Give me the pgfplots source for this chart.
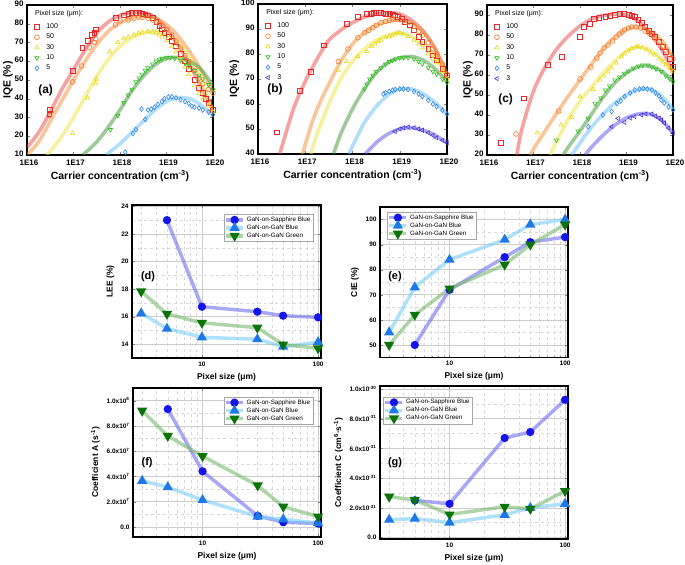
\documentclass[border=0pt]{standalone}
\usepackage{pgfplots}
\pgfplotsset{compat=1.18}
\usepackage{fontspec}
\setmainfont{Liberation Sans}

\definecolor{cR}{RGB}{230,40,40}
\definecolor{cO}{RGB}{245,120,40}
\definecolor{cY}{RGB}{232,215,10}
\definecolor{cG}{RGB}{40,190,20}
\definecolor{cB}{RGB}{40,130,235}
\definecolor{cP}{RGB}{70,50,220}
\definecolor{cRf}{RGB}{240,70,70}
\definecolor{cOf}{RGB}{250,140,50}
\definecolor{cYf}{RGB}{240,225,60}
\definecolor{cGf}{RGB}{60,150,50}
\definecolor{cBf}{RGB}{100,190,245}
\definecolor{cPf}{RGB}{90,80,230}
\definecolor{sapL}{RGB}{110,110,240}
\definecolor{sapM}{RGB}{20,20,235}
\definecolor{gbL}{RGB}{120,205,250}
\definecolor{gbM}{RGB}{30,120,230}
\definecolor{ggL}{RGB}{120,185,110}
\definecolor{ggM}{RGB}{10,115,10}

\begin{document}
\begin{tikzpicture}
\path[use as bounding box] (0,0) rectangle (685bp,565bp);

% ================= (a) =================
\begin{axis}[at={(27bp,410bp)}, anchor=south west, width=186bp, height=150bp,
  scale only axis, xmode=log, xmin=1e16, xmax=1e20,
  xtick={1e16,1e17,1e18,1e19,1e20}, xticklabels={1E16,1E17,1E18,1E19,1E20},
  tick align=inside, major tick length=3pt, minor tick length=1.5pt,
  axis line style={line width=1.1pt},
  tick label style={font=\bfseries\fontsize{8}{9}\selectfont},
  xticklabel style={yshift=-1.5pt, xshift=2pt},
  yticklabel style={yshift=1pt},
  label style={font=\bfseries\fontsize{10.5}{12}\selectfont},
  xlabel={Carrier concentration (cm\textsuperscript{-3})}, ylabel={IQE (\%)},
  xlabel shift=-2pt, ylabel shift=-5pt,
  legend cell align=left,
  legend style={draw=none, fill=none, anchor=north west, at={(0.035,0.895)},
      font=\fontsize{7}{8}\selectfont, row sep=0pt, inner sep=0.8pt,
      /tikz/every odd column/.append style={column sep=5pt}},
  ymin=10, ymax=90, ytick={10,20,30,40,50,60,70,80,90},
  yticklabels={10,20,30,40,50,60,70,80,90}]
\addplot[forget plot, smooth, no marks, line width=3.6pt, opacity=0.5, cRf] coordinates {(1e16,14) (1.778e16,22) (3.162e16,33) (5.623e16,45) (1e17,55.5) (1.778e17,66) (3.162e17,75) (5.623e17,81) (1e18,84.5) (1.778e18,86) (3.162e18,86) (5.623e18,83.5) (1e19,77.5) (1.778e19,69) (3.162e19,58) (5.623e19,46) (1e20,34)};
\addplot[forget plot, smooth, no marks, line width=3.6pt, opacity=0.5, cOf] coordinates {(1e16,10) (1.778e16,17) (3.162e16,28) (5.623e16,39) (1e17,50) (1.778e17,60) (3.162e17,69) (5.623e17,76) (1e18,80.5) (1.778e18,83) (3.162e18,84) (5.623e18,83) (1e19,79.5) (1.778e19,73.5) (3.162e19,65) (5.623e19,55) (1e20,43)};
\addplot[forget plot, smooth, no marks, line width=3.6pt, opacity=0.5, cYf] coordinates {(2.63e16,10) (3.162e16,12) (5.623e16,20) (1e17,30) (1.778e17,41) (3.162e17,52) (5.623e17,61) (1e18,68) (1.778e18,72.5) (3.162e18,75) (5.623e18,76) (1e19,74.5) (1.778e19,70) (3.162e19,62) (5.623e19,50) (1e20,33)};
\addplot[forget plot, smooth, no marks, line width=3.6pt, opacity=0.5, cGf] coordinates {(1.585e17,10) (3.162e17,17) (5.623e17,25) (1e18,34) (1.778e18,44) (3.162e18,52) (5.623e18,58) (1e19,61.5) (1.778e19,62) (3.162e19,60) (5.623e19,55.5) (1e20,47)};
\addplot[forget plot, smooth, no marks, line width=3.6pt, opacity=0.5, cBf] coordinates {(5.01e17,10) (1e18,16) (1.778e18,22) (3.162e18,28) (5.623e18,34) (1e19,38.5) (1.778e19,40.5) (3.162e19,40) (5.623e19,36.5) (1e20,31)};
\addplot[only marks, line width=0.6pt, mark size=2.4pt, cR, mark=square] coordinates {(3.1e16,34) (3e16,32) (9.5e16,55) (1.55e17,67) (2e17,71) (2.5e17,74) (2.8e17,75) (3e17,77) (8e17,83) (1.2e18,84.5) (1.5e18,85.5) (1.8e18,86) (2.2e18,86) (2.6e18,86) (3e18,85.5) (3.5e18,85) (4e18,84.5) (5e18,83) (6e18,81) (7e18,79) (8e18,77) (9e18,75) (1.1e19,73) (1.3e19,71) (1.6e19,68) (2e19,64) (2.5e19,60) (3e19,56) (4e19,50) (5e19,46) (6e19,43) (7e19,40) (8e19,38) (1e20,34)};
\addlegendentry{100}
\addplot[only marks, line width=0.6pt, mark size=2.4pt, cO, mark=o] coordinates {(3e16,31) (9.5e16,49) (1.5e17,57.5) (2.2e17,67.5) (2.8e17,70) (3e17,72) (8e17,79.5) (1e18,81.5) (1.5e18,82) (2e18,83) (2.5e18,83.5) (3e18,83.5) (4e18,83) (5e18,82) (6e18,81) (7e18,80) (8e18,79) (1e19,77) (1.3e19,74) (1.6e19,71) (2e19,67) (2.5e19,63) (3e19,60) (4e19,55) (5e19,51) (6e19,48) (8e19,45) (1e20,43)};
\addlegendentry{50}
\addplot[only marks, line width=0.6pt, mark size=2.4pt, cY, mark=triangle] coordinates {(9.5e16,21.5) (2e17,40.5) (3e17,48) (3.1e17,50.5) (6e17,65) (9e17,70) (1.2e18,72) (1.5e18,73) (2e18,74) (2.5e18,75) (3e18,75.5) (4e18,76) (5e18,75.5) (6e18,75) (7e18,74) (8e18,73) (1e19,71) (1.3e19,68) (1.6e19,65) (2e19,61) (2.5e19,57) (3e19,53) (4e19,47) (5e19,43) (6e19,40) (8e19,36) (1e20,33)};
\addlegendentry{30}
\addplot[only marks, line width=0.6pt, mark size=2.4pt, cG, mark=triangle, mark options={rotate=180}] coordinates {(6.2e17,23.5) (9e17,31) (1.2e18,38) (1.5e18,42) (1.8e18,45) (2.2e18,49) (2.6e18,51) (3e18,53) (3.5e18,55) (4e18,56.5) (5e18,58.5) (6e18,60) (7e18,61) (8e18,61.5) (1e19,62) (1.2e19,62) (1.5e19,61.5) (2e19,60.5) (2.5e19,59) (3e19,57.5) (4e19,55) (5e19,52.5) (6e19,50.5) (8e19,47.5) (1e20,45)};
\addlegendentry{10}
\addplot[only marks, line width=0.6pt, mark size=2.4pt, cB, mark=diamond] coordinates {(1.3e18,11.5) (1.9e18,21.5) (2.2e18,23.5) (2.9e18,34.5) (3.5e18,29) (4e18,34) (4.7e18,34.5) (5.5e18,35.5) (6.5e18,37) (8e18,38.5) (9e18,40) (1.1e19,41) (1.3e19,41) (1.6e19,40.5) (2e19,39.5) (2.5e19,38.5) (3e19,37.5) (3.5e19,36) (4e19,35.5) (5e19,35) (6e19,34) (8e19,33) (1e20,31.5)};
\addlegendentry{5}
\node[anchor=west, font=\fontsize{7}{8}\selectfont] at (rel axis cs:0.025,0.94) {Pixel size (μm):};
\node[font=\bfseries\fontsize{12}{14}\selectfont] at (rel axis cs:0.1,0.43) {(a)};
\end{axis}

% ================= (b) =================
\begin{axis}[at={(258bp,411bp)}, anchor=south west, width=189bp, height=150bp,
  scale only axis, xmode=log, xmin=1e16, xmax=1e20,
  xtick={1e16,1e17,1e18,1e19,1e20}, xticklabels={1E16,1E17,1E18,1E19,1E20},
  tick align=inside, major tick length=3pt, minor tick length=1.5pt,
  axis line style={line width=1.1pt},
  tick label style={font=\bfseries\fontsize{8}{9}\selectfont},
  xticklabel style={yshift=-1.5pt, xshift=2pt},
  yticklabel style={yshift=1pt},
  label style={font=\bfseries\fontsize{10.5}{12}\selectfont},
  xlabel={Carrier concentration (cm\textsuperscript{-3})}, ylabel={IQE (\%)},
  xlabel shift=-2pt, ylabel shift=-5pt,
  legend cell align=left,
  legend style={draw=none, fill=none, anchor=north west, at={(0.035,0.895)},
      font=\fontsize{7}{8}\selectfont, row sep=0pt, inner sep=0.8pt,
      /tikz/every odd column/.append style={column sep=5pt}},
  ymin=40, ymax=100, ytick={40,50,60,70,80,90,100},
  yticklabels={40,50,60,70,80,90,100}]
\addplot[forget plot, smooth, no marks, line width=3.6pt, opacity=0.5, cRf] coordinates {(2.88e16,40) (5.623e16,58) (1e17,69) (1.778e17,78) (3.162e17,85.5) (5.623e17,89.5) (1e18,92.5) (1.778e18,94.8) (3.162e18,96) (5.623e18,96.5) (1e19,96) (1.778e19,93.5) (3.162e19,89) (5.623e19,82) (1e20,72)};
\addplot[forget plot, smooth, no marks, line width=3.6pt, opacity=0.5, cOf] coordinates {(8.71e16,40) (1.259e17,50) (1.778e17,58) (3.162e17,68) (5.623e17,77) (1e18,84) (1.778e18,88.5) (3.162e18,91.5) (5.623e18,93) (1e19,93.5) (1.778e19,92.5) (3.162e19,89) (5.623e19,82) (1e20,71)};
\addplot[forget plot, smooth, no marks, line width=3.6pt, opacity=0.5, cYf] coordinates {(1.318e17,40) (1.778e17,48) (3.162e17,60) (5.623e17,70) (1e18,77) (1.778e18,82) (3.162e18,85.5) (5.623e18,87.5) (1e19,88.3) (1.778e19,87) (3.162e19,84) (5.623e19,79) (1e20,71)};
\addplot[forget plot, smooth, no marks, line width=3.6pt, opacity=0.5, cGf] coordinates {(3.98e17,40) (5.623e17,48) (1e18,58) (1.778e18,66) (3.162e18,72.5) (5.623e18,76.5) (1e19,78.5) (1.778e19,79) (3.162e19,77.5) (5.623e19,74) (1e20,69)};
\addplot[forget plot, smooth, no marks, line width=3.6pt, opacity=0.5, cBf] coordinates {(8.32e17,40) (1.259e18,47) (1.778e18,52.5) (3.162e18,59) (5.623e18,63.5) (1e19,66) (1.778e19,66) (3.162e19,64) (5.623e19,60.5) (1e20,56)};
\addplot[forget plot, smooth, no marks, line width=3.6pt, opacity=0.5, cPf] coordinates {(1.862e18,40) (3.162e18,44.5) (5.623e18,48) (1e19,50) (1.778e19,50.5) (3.162e19,49.5) (5.623e19,47.5) (1e20,44.5)};
\addplot[only marks, line width=0.6pt, mark size=2.4pt, cR, mark=square] coordinates {(2.5e16,48.7) (7.7e16,65.4) (1.3e17,73) (2.5e17,83.5) (7.5e17,92) (1.3e18,95) (2e18,96) (2.4e18,96.2) (2.8e18,96.5) (3.2e18,96.5) (3.6e18,96.5) (4e18,96.5) (4.5e18,96.3) (5e18,96.2) (6e18,96) (7e18,95.8) (8e18,95.5) (9e18,95) (1.1e19,94) (1.3e19,93) (1.6e19,91.5) (2e19,89.5) (2.5e19,87) (3e19,85) (4e19,82) (5e19,79.5) (6e19,77.5) (8e19,74) (1e20,71.5)};
\addlegendentry{100}
\addplot[only marks, line width=0.6pt, mark size=2.4pt, cO, mark=o] coordinates {(5e17,77) (8e17,82) (1.3e18,86.5) (1.8e18,88.5) (2.2e18,89.5) (2.7e18,90.5) (3.2e18,91.5) (4e18,92.5) (5e18,93) (6e18,93.5) (7e18,94) (8e18,94) (1e19,93.8) (1.2e19,93.5) (1.5e19,92.5) (2e19,91) (2.5e19,89) (3e19,87.5) (4e19,84.5) (5e19,82) (6e19,80) (8e19,76) (1e20,72)};
\addlegendentry{50}
\addplot[only marks, line width=0.6pt, mark size=2.4pt, cY, mark=triangle] coordinates {(5e17,73.5) (7.5e17,77) (1.3e18,79) (2e18,81) (2.5e18,83) (3e18,84) (3.5e18,85) (4e18,85.5) (5e18,86.5) (6e18,87) (7e18,87.5) (8e18,88) (9e18,88.5) (1e19,88.5) (1.2e19,88) (1.5e19,87) (2e19,85.5) (2.5e19,84) (3e19,82.5) (4e19,80) (5e19,78) (6e19,76.5) (8e19,73) (1e20,70)};
\addlegendentry{30}
\addplot[only marks, line width=0.6pt, mark size=2.4pt, cG, mark=triangle, mark options={rotate=180}] coordinates {(1.8e18,66) (2e18,68) (2.3e18,70) (2.7e18,71.5) (3.2e18,73) (4e18,74.5) (5e18,76) (6e18,77) (7e18,77.5) (8e18,78) (1e19,78.5) (1.2e19,78.5) (1.5e19,78.5) (2e19,78) (2.5e19,77) (3e19,76) (4e19,74.5) (5e19,73) (6e19,72) (8e19,70) (1e20,68.5)};
\addlegendentry{10}
\addplot[only marks, line width=0.6pt, mark size=2.4pt, cB, mark=diamond] coordinates {(4.5e18,64) (5e18,64.5) (6e18,65) (7e18,65.5) (8e18,65.8) (1e19,66) (1.2e19,66) (1.5e19,65.8) (2e19,65) (2.5e19,64) (3e19,63) (4e19,61.5) (5e19,60) (6e19,59) (8e19,57.5) (1e20,56)};
\addlegendentry{5}
\addplot[only marks, line width=0.6pt, mark size=2.4pt, cP, mark=triangle, mark options={rotate=90}] coordinates {(8e18,49) (1e19,50) (1.2e19,50.5) (1.5e19,50.8) (2e19,50.5) (2.5e19,50) (3e19,49.5) (4e19,48.5) (5e19,47.5) (6e19,46.5) (8e19,45.5) (1e20,44.5)};
\addlegendentry{3}
\node[anchor=west, font=\fontsize{7}{8}\selectfont] at (rel axis cs:0.025,0.94) {Pixel size (μm):};
\node[font=\bfseries\fontsize{12}{14}\selectfont] at (rel axis cs:0.09,0.43) {(b)};
\end{axis}

% ================= (c) =================
\begin{axis}[at={(487bp,410bp)}, anchor=south west, width=186bp, height=150bp,
  scale only axis, xmode=log, xmin=1e16, xmax=1e20,
  xtick={1e16,1e17,1e18,1e19,1e20}, xticklabels={1E16,1E17,1E18,1E19,1E20},
  tick align=inside, major tick length=3pt, minor tick length=1.5pt,
  axis line style={line width=1.1pt},
  tick label style={font=\bfseries\fontsize{8}{9}\selectfont},
  xticklabel style={yshift=-1.5pt, xshift=2pt},
  yticklabel style={yshift=1pt},
  label style={font=\bfseries\fontsize{10.5}{12}\selectfont},
  xlabel={Carrier concentration (cm\textsuperscript{-3})}, ylabel={IQE (\%)},
  xlabel shift=-2pt, ylabel shift=-5pt,
  legend cell align=left,
  legend style={draw=none, fill=none, anchor=north west, at={(0.035,0.895)},
      font=\fontsize{7}{8}\selectfont, row sep=0pt, inner sep=0.8pt,
      /tikz/every odd column/.append style={column sep=5pt}},
  ymin=20, ymax=95, ytick={20,30,40,50,60,70,80,90},
  yticklabels={20,30,40,50,60,70,80,90}]
\addplot[forget plot, smooth, no marks, line width=3.6pt, opacity=0.5, cRf] coordinates {(4.37e16,20) (5.623e16,33) (1e17,52) (1.778e17,64) (3.162e17,73) (5.623e17,79.5) (1e18,84.5) (1.778e18,88) (3.162e18,89.8) (5.623e18,90.5) (1e19,90) (1.778e19,87) (3.162e19,81) (5.623e19,73) (1e20,62)};
\addplot[forget plot, smooth, no marks, line width=3.6pt, opacity=0.5, cOf] coordinates {(8.51e16,20) (1e17,23) (1.778e17,32) (3.162e17,41) (5.623e17,49.5) (1e18,57.5) (1.778e18,65.5) (3.162e18,73) (5.623e18,79) (1e19,83) (1.778e19,84) (3.162e19,82) (5.623e19,77.5) (1e20,69)};
\addplot[forget plot, smooth, no marks, line width=3.6pt, opacity=0.5, cYf] coordinates {(2.29e17,20) (3.162e17,27) (5.623e17,38) (1e18,47) (1.778e18,54) (3.162e18,61) (5.623e18,67) (1e19,72) (1.778e19,74) (3.162e19,72.5) (5.623e19,68) (1e20,61)};
\addplot[forget plot, smooth, no marks, line width=3.6pt, opacity=0.5, cGf] coordinates {(4.37e17,20) (5.623e17,24) (1e18,32) (1.778e18,40.5) (3.162e18,49) (5.623e18,56) (1e19,61) (1.778e19,64) (3.162e19,64.5) (5.623e19,62) (1e20,57)};
\addplot[forget plot, smooth, no marks, line width=3.6pt, opacity=0.5, cBf] coordinates {(6.61e17,20) (1e18,26) (1.778e18,34) (3.162e18,40.5) (5.623e18,46) (1e19,50) (1.778e19,52.5) (3.162e19,53) (5.623e19,49.5) (1e20,43)};
\addplot[forget plot, smooth, no marks, line width=3.6pt, opacity=0.5, cPf] coordinates {(1.288e18,20) (1.778e18,24) (3.162e18,30) (5.623e18,35) (1e19,38.5) (1.778e19,40.5) (3.162e19,40.5) (5.623e19,37.5) (1e20,31)};
\addplot[only marks, line width=0.6pt, mark size=2.4pt, cR, mark=square] coordinates {(2e16,26.2) (6.3e16,48.3) (2e17,65) (4.1e17,69) (9.8e17,79) (1.2e18,84) (1.6e18,85.5) (2e18,88) (2.6e18,88.5) (3.5e18,89) (4.5e18,89.5) (5.6e18,90) (7e18,90.5) (9e18,90.5) (1.1e19,90) (1.3e19,89.5) (1.5e19,89) (1.8e19,87.5) (2.1e19,86) (2.5e19,84) (3e19,82) (3.5e19,80.5) (4e19,79) (5e19,76.5) (6e19,74) (7e19,71.5) (8.5e19,68) (1e20,64)};
\addlegendentry{100}
\addplot[only marks, line width=0.6pt, mark size=2.4pt, cO, mark=o] coordinates {(4.2e16,30.5) (3.5e17,42) (1e18,58) (1.7e18,64) (2.3e18,68.5) (2.7e18,71) (3.3e18,73.5) (4e18,75) (5e18,77) (6e18,79) (7e18,80.5) (8e18,81.5) (9e18,82.5) (1.1e19,83.5) (1.3e19,84) (1.6e19,84) (2e19,83.5) (2.5e19,82) (3e19,81) (3.5e19,80) (4e19,78.5) (5e19,76.5) (6e19,74.5) (7e19,72.5) (8.5e19,70) (1e20,68)};
\addlegendentry{50}
\addplot[only marks, line width=0.6pt, mark size=2.4pt, cY, mark=triangle] coordinates {(1.2e17,31) (3.9e17,35) (6.6e17,38.8) (1e18,49.2) (1.9e18,52.8) (2.7e18,57.5) (3.3e18,59.5) (4e18,61.5) (4.8e18,63.5) (6e18,66) (7.8e18,69) (9e18,70.5) (1.1e19,72) (1.3e19,73.3) (1.6e19,74) (1.8e19,74.2) (2.2e19,73.5) (2.7e19,72.5) (3.3e19,71) (4e19,70) (5e19,68) (6e19,66.5) (7e19,65) (8.5e19,63.5) (1e20,62)};
\addlegendentry{30}
\addplot[only marks, line width=0.6pt, mark size=2.4pt, cG, mark=triangle, mark options={rotate=180}] coordinates {(3.1e17,27.5) (9e17,32) (1.5e18,38.3) (2.1e18,45.8) (2.8e18,48.5) (3.5e18,52.5) (4.3e18,54.5) (5.6e18,57.5) (7e18,59) (9e18,60.8) (1.1e19,62) (1.4e19,63.5) (1.8e19,64.5) (2.2e19,65) (2.9e19,65) (3.5e19,64) (4.3e19,63) (5.6e19,61.7) (7e19,59.5) (8.5e19,58) (1e20,56.5)};
\addlegendentry{10}
\addplot[only marks, line width=0.6pt, mark size=2.4pt, cB, mark=diamond] coordinates {(1.5e18,34.2) (3.1e18,40) (4.8e18,41.7) (6.2e18,45.8) (7.5e18,47) (9.1e18,49.2) (1.2e19,51) (1.5e19,52.5) (1.9e19,53) (2.3e19,53.3) (2.8e19,53) (3.5e19,52.5) (4.2e19,51) (5e19,49.5) (5.6e19,47.5) (6.5e19,46) (8e19,44) (1e20,42.5)};
\addlegendentry{5}
\addplot[only marks, line width=0.6pt, mark size=2.4pt, cP, mark=triangle, mark options={rotate=90}] coordinates {(4.8e18,34.2) (6.6e18,38.3) (9.1e18,36.3) (1.2e19,38.5) (1.5e19,39.2) (2.1e19,40) (2.6e19,40.5) (3.5e19,40.5) (4.2e19,39.5) (5e19,38.5) (5.6e19,37.5) (6.5e19,36) (8e19,33.5) (1e20,31)};
\addlegendentry{3}
\node[anchor=west, font=\fontsize{7}{8}\selectfont] at (rel axis cs:0.025,0.94) {Pixel size (μm):};
\node[font=\bfseries\fontsize{12}{14}\selectfont] at (rel axis cs:0.1,0.37) {(c)};
\end{axis}

% ================= (d) =================
\begin{axis}[at={(132bp,207bp)}, anchor=south west, width=189bp, height=153bp,
  scale only axis, xmode=log, xmin=2.5, xmax=106,
  xtick={10,100}, xticklabels={10,100},
  minor xtick={3,4,5,6,7,8,9,20,30,40,50,60,70,80,90},
  grid=both, major grid style={gray!40, line width=0.6pt},
  minor grid style={gray!30, dashed, line width=0.4pt},
  axis line style={line width=1.2pt},
  tick align=inside, major tick length=3pt, minor tick length=1.5pt,
  tick label style={font=\bfseries\fontsize{6.5}{7}\selectfont},
  label style={font=\bfseries\fontsize{8.5}{10}\selectfont},
  xlabel={Pixel size (μm)},
  legend cell align=left,
  legend style={draw=gray!70, fill=white, font=\fontsize{6.3}{7}\selectfont,
      inner sep=0.5pt, row sep=-2pt, at={(0.958,0.94)}, anchor=north east},
  ymin=13, ymax=24.1, ytick={14,16,18,20,22,24}, yticklabels={14,16,18,20,22,24},
  minor ytick={13,15,17,19,21,23},
  ylabel={LEE (\%)}]
\addplot[line width=3.5pt, opacity=0.6, mark size=2.3pt, sapL, mark=*, mark options={opacity=1, fill=sapM, draw=sapM}] coordinates {(5,23.0) (10,16.72) (30,16.36) (50,16.07) (100,15.95)};
\addlegendentry{GaN-on-Sapphire Blue}
\addplot[line width=3.5pt, opacity=0.6, mark size=2.5pt, gbL, mark=triangle*, mark options={opacity=1, fill=gbM, draw=gbM}] coordinates {(3,16.24) (5,15.13) (10,14.5) (30,14.36) (50,13.82) (100,14.15)};
\addlegendentry{GaN-on-GaN Blue}
\addplot[line width=3.5pt, opacity=0.6, mark size=2.5pt, ggL, mark=triangle*, mark options={opacity=1, fill=ggM, draw=ggM, rotate=180}] coordinates {(3,17.83) (5,16.2) (10,15.55) (30,15.2) (50,13.98) (100,13.7)};
\addlegendentry{GaN-on-GaN Green}
\node[font=\bfseries\fontsize{11}{13}\selectfont] at (rel axis cs:0.085,0.53) {(d)};
\end{axis}

% ================= (e) =================
\begin{axis}[at={(380bp,207.5bp)}, anchor=south west, width=188bp, height=150.5bp,
  scale only axis, xmode=log, xmin=2.5, xmax=106,
  xtick={10,100}, xticklabels={10,100},
  minor xtick={3,4,5,6,7,8,9,20,30,40,50,60,70,80,90},
  grid=both, major grid style={gray!40, line width=0.6pt},
  minor grid style={gray!30, dashed, line width=0.4pt},
  axis line style={line width=1.2pt},
  tick align=inside, major tick length=3pt, minor tick length=1.5pt,
  tick label style={font=\bfseries\fontsize{6.5}{7}\selectfont},
  label style={font=\bfseries\fontsize{8.5}{10}\selectfont},
  xlabel={Pixel size (μm)},
  legend cell align=left,
  legend style={draw=gray!70, fill=white, font=\fontsize{6.3}{7}\selectfont,
      inner sep=0.5pt, row sep=-2pt, at={(0.037,0.967)}, anchor=north west},
  ymin=45, ymax=105, ytick={50,60,70,80,90,100}, yticklabels={50,60,70,80,90,100},
  minor ytick={55,65,75,85,95},
  ylabel={CIE (\%)}]
\addplot[line width=3.5pt, opacity=0.6, mark size=2.3pt, sapL, mark=*, mark options={opacity=1, fill=sapM, draw=sapM}] coordinates {(5,50) (10,72) (30,85) (50,91) (100,93)};
\addlegendentry{GaN-on-Sapphire Blue}
\addplot[line width=3.5pt, opacity=0.6, mark size=2.5pt, gbL, mark=triangle*, mark options={opacity=1, fill=gbM, draw=gbM}] coordinates {(3,55) (5,73) (10,84) (30,92) (50,98) (100,100)};
\addlegendentry{GaN-on-GaN Blue}
\addplot[line width=3.5pt, opacity=0.6, mark size=2.5pt, ggL, mark=triangle*, mark options={opacity=1, fill=ggM, draw=ggM, rotate=180}] coordinates {(3,50) (5,62) (10,72.5) (30,82) (50,90) (100,98)};
\addlegendentry{GaN-on-GaN Green}
\node[font=\bfseries\fontsize{11}{13}\selectfont] at (rel axis cs:0.08,0.535) {(e)};
\end{axis}

% ================= (f) =================
\begin{axis}[at={(133bp,28bp)}, anchor=south west, width=188bp, height=149bp,
  scale only axis, xmode=log, xmin=2.5, xmax=106,
  xtick={10,100}, xticklabels={10,100},
  minor xtick={3,4,5,6,7,8,9,20,30,40,50,60,70,80,90},
  grid=both, major grid style={gray!40, line width=0.6pt},
  minor grid style={gray!30, dashed, line width=0.4pt},
  axis line style={line width=1.2pt},
  tick align=inside, major tick length=3pt, minor tick length=1.5pt,
  tick label style={font=\bfseries\fontsize{6.5}{7}\selectfont},
  label style={font=\bfseries\fontsize{8.5}{10}\selectfont},
  xlabel={Pixel size (μm)},
  legend cell align=left,
  legend style={draw=gray!70, fill=white, font=\fontsize{6.3}{7}\selectfont,
      inner sep=0.5pt, row sep=-2pt, at={(0.957,0.94)}, anchor=north east},
  scaled y ticks=false,
  ymin=-0.8e7, ymax=1.1e8, ytick={0,2e7,4e7,6e7,8e7,1e8},
  yticklabels={0.0, 2.0x10\textsuperscript{7}, 4.0x10\textsuperscript{7}, 6.0x10\textsuperscript{7}, 8.0x10\textsuperscript{7}, 1.0x10\textsuperscript{8}},
  minor ytick={1e7,3e7,5e7,7e7,9e7},
  ylabel={Coefficient A (s\textsuperscript{-1})}]
\addplot[line width=3.5pt, opacity=0.6, mark size=2.3pt, sapL, mark=*, mark options={opacity=1, fill=sapM, draw=sapM}] coordinates {(5,9.33e7) (10,4.4e7) (30,0.87e7) (50,0.37e7) (100,0.27e7)};
\addlegendentry{GaN-on-Sapphire Blue}
\addplot[line width=3.5pt, opacity=0.6, mark size=2.5pt, gbL, mark=triangle*, mark options={opacity=1, fill=gbM, draw=gbM}] coordinates {(3,3.65e7) (5,3.15e7) (10,2.13e7) (30,0.82e7) (50,0.6e7) (100,0.3e7)};
\addlegendentry{GaN-on-GaN Blue}
\addplot[line width=3.5pt, opacity=0.6, mark size=2.5pt, ggL, mark=triangle*, mark options={opacity=1, fill=ggM, draw=ggM, rotate=180}] coordinates {(3,9.2e7) (5,7.2e7) (10,5.6e7) (30,3.28e7) (50,1.6e7) (100,0.82e7)};
\addlegendentry{GaN-on-GaN Green}
\node[font=\bfseries\fontsize{11}{13}\selectfont] at (rel axis cs:0.075,0.5) {(f)};
\end{axis}

% ================= (g) =================
\begin{axis}[at={(380bp,26bp)}, anchor=south west, width=188bp, height=153bp,
  scale only axis, xmode=log, xmin=2.5, xmax=106,
  xtick={10,100}, xticklabels={10,100},
  minor xtick={3,4,5,6,7,8,9,20,30,40,50,60,70,80,90},
  grid=both, major grid style={gray!40, line width=0.6pt},
  minor grid style={gray!30, dashed, line width=0.4pt},
  axis line style={line width=1.2pt},
  tick align=inside, major tick length=3pt, minor tick length=1.5pt,
  tick label style={font=\bfseries\fontsize{6.5}{7}\selectfont},
  label style={font=\bfseries\fontsize{8.5}{10}\selectfont},
  xlabel={Pixel size (μm)},
  legend cell align=left,
  legend style={draw=gray!70, fill=white, font=\fontsize{6.3}{7}\selectfont,
      inner sep=0.5pt, row sep=-2pt, at={(0.016,0.93)}, anchor=north west},
  scaled y ticks=false,
  ymin=-0.1e-31, ymax=10.2e-31, ytick={0,2e-31,4e-31,6e-31,8e-31,10e-31},
  yticklabels={0.0, 2.0x10\textsuperscript{-31}, 4.0x10\textsuperscript{-31}, 6.0x10\textsuperscript{-31}, 8.0x10\textsuperscript{-31}, 1.0x10\textsuperscript{-30}},
  minor ytick={1e-31,3e-31,5e-31,7e-31,9e-31},
  ylabel={Coefficient C (cm\textsuperscript{6}·s\textsuperscript{-1})}]
\addplot[line width=3.5pt, opacity=0.6, mark size=2.3pt, sapL, mark=*, mark options={opacity=1, fill=sapM, draw=sapM}] coordinates {(5,2.5e-31) (10,2.27e-31) (30,6.7e-31) (50,7.1e-31) (100,9.27e-31)};
\addlegendentry{GaN-on-Sapphire Blue}
\addplot[line width=3.5pt, opacity=0.6, mark size=2.5pt, gbL, mark=triangle*, mark options={opacity=1, fill=gbM, draw=gbM}] coordinates {(3,1.2e-31) (5,1.27e-31) (10,1.0e-31) (30,1.53e-31) (50,2.0e-31) (100,2.27e-31)};
\addlegendentry{GaN-on-GaN Blue}
\addplot[line width=3.5pt, opacity=0.6, mark size=2.5pt, ggL, mark=triangle*, mark options={opacity=1, fill=ggM, draw=ggM, rotate=180}] coordinates {(3,2.75e-31) (5,2.53e-31) (10,1.55e-31) (30,2.07e-31) (50,1.93e-31) (100,3.13e-31)};
\addlegendentry{GaN-on-GaN Green}
\node[font=\bfseries\fontsize{11}{13}\selectfont] at (rel axis cs:0.08,0.5) {(g)};
\end{axis}
\end{tikzpicture}
\end{document}
